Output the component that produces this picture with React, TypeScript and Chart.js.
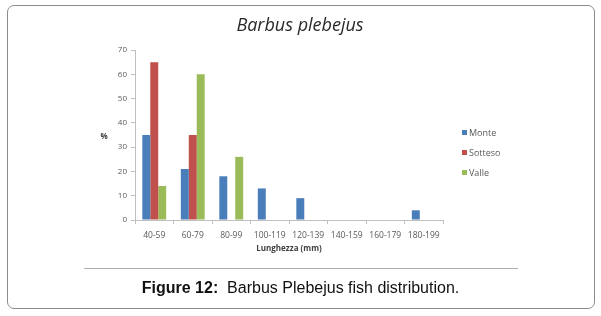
import React, { useEffect, useRef } from "react";
import { Chart, registerables } from "chart.js";

Chart.register(...registerables);

const categories = ["40-59", "60-79", "80-99", "100-119", "120-139", "140-159", "160-179", "180-199"];
const monte = [35, 21, 18, 13, 9, 0, 0, 4];
const sotteso = [65, 35, 0, 0, 0, 0, 0, 0];
const valle = [14, 60, 26, 0, 0, 0, 0, 0];
const seriesNames = ["Monte", "Sotteso", "Valle"];
const seriesColors = ["#4A7EBB", "#C0504D", "#9BBB59"];
const chartTitle = "Barbus plebejus";
const xTitle = "Lunghezza (mm)";
const yTitle = "%";

const overlay = {
  id: "overlay",
  afterDraw(chart: any) {
    const ctx = chart.ctx;
    const area = chart.chartArea;
    ctx.save();
    ctx.fillStyle = "#2a2a2a";
    ctx.font = "italic 18px 'Open Sans', sans-serif";
    ctx.textAlign = "center";
    ctx.textBaseline = "middle";
    ctx.fillText(chartTitle, 300, 26);
    ctx.font = "bold 8px 'Open Sans', sans-serif";
    ctx.fillStyle = "#404040";
    ctx.fillText(yTitle, 104, 137);
    ctx.fillText(xTitle, (area.left + area.right) / 2, 249);
    ctx.font = "9px 'Open Sans', sans-serif";
    ctx.textAlign = "left";
    const ys = [133, 153, 173];
    seriesNames.forEach((n, i) => {
      ctx.fillStyle = seriesColors[i];
      ctx.fillRect(462, ys[i] - 3, 5, 5);
      ctx.fillStyle = "#595959";
      ctx.fillText(n, 469, ys[i]);
    });
    ctx.restore();
  },
};

export default function App() {
  const ref = useRef<HTMLCanvasElement>(null);
  useEffect(() => {
    const chart = new Chart(ref.current!, {
      type: "bar",
      data: {
        labels: categories,
        datasets: [
          { label: seriesNames[0], data: monte, backgroundColor: seriesColors[0] },
          { label: seriesNames[1], data: sotteso, backgroundColor: seriesColors[1] },
          { label: seriesNames[2], data: valle, backgroundColor: seriesColors[2] },
        ],
      },
      options: {
        animation: false,
        responsive: false,
        maintainAspectRatio: false,
        layout: { padding: { left: 105, right: 158, top: 50, bottom: 75 } },
        datasets: { bar: { categoryPercentage: 0.62, barPercentage: 1 } } as any,
        plugins: { legend: { display: false }, tooltip: { enabled: false }, title: { display: false } },
        scales: {
          x: {
            afterFit: (s: any) => { s.height = 21; },
            grid: { display: true, drawOnChartArea: false, drawTicks: true, tickLength: 4, offset: true, color: "#BFBFBF" },
            border: { color: "#BFBFBF" },
            ticks: { color: "#595959", font: { size: 8.5, family: "'Open Sans', sans-serif" }, padding: 6, maxRotation: 0, autoSkip: false },
          },
          y: {
            min: 0,
            max: 70,
            afterFit: (s: any) => { s.width = 30; },
            grid: { display: true, drawOnChartArea: false, drawTicks: true, tickLength: 4, color: "#BFBFBF" },
            border: { color: "#BFBFBF" },
            ticks: { stepSize: 10, color: "#595959", font: { size: 8, family: "'Open Sans', sans-serif" }, padding: 4 },
          },
        },
      },
      plugins: [overlay],
    });
    return () => chart.destroy();
  }, []);

  return (
    <div style={{ position: "fixed", left: 0, top: 0, width: 601, height: 316, background: "#fff" }}>
      <canvas ref={ref} width={601} height={316} style={{ position: "absolute", left: 0, top: 0 }} />
      <div style={{ position: "absolute", left: 7, top: 5, width: 586, height: 302, border: "1px solid #8c8c8c", borderRadius: 7, pointerEvents: "none" }} />
      <div style={{ position: "absolute", left: 84, top: 268, width: 434, height: 0, borderTop: "1px solid #b0b0b0" }} />
      <div style={{ position: "absolute", left: 0, width: 601, top: 279, textAlign: "center", fontFamily: "'Liberation Sans', Arial, sans-serif", fontSize: 16, color: "#111" }}>
        <b>Figure 12:</b>&nbsp; Barbus Plebejus fish distribution.
      </div>
    </div>
  );
}
